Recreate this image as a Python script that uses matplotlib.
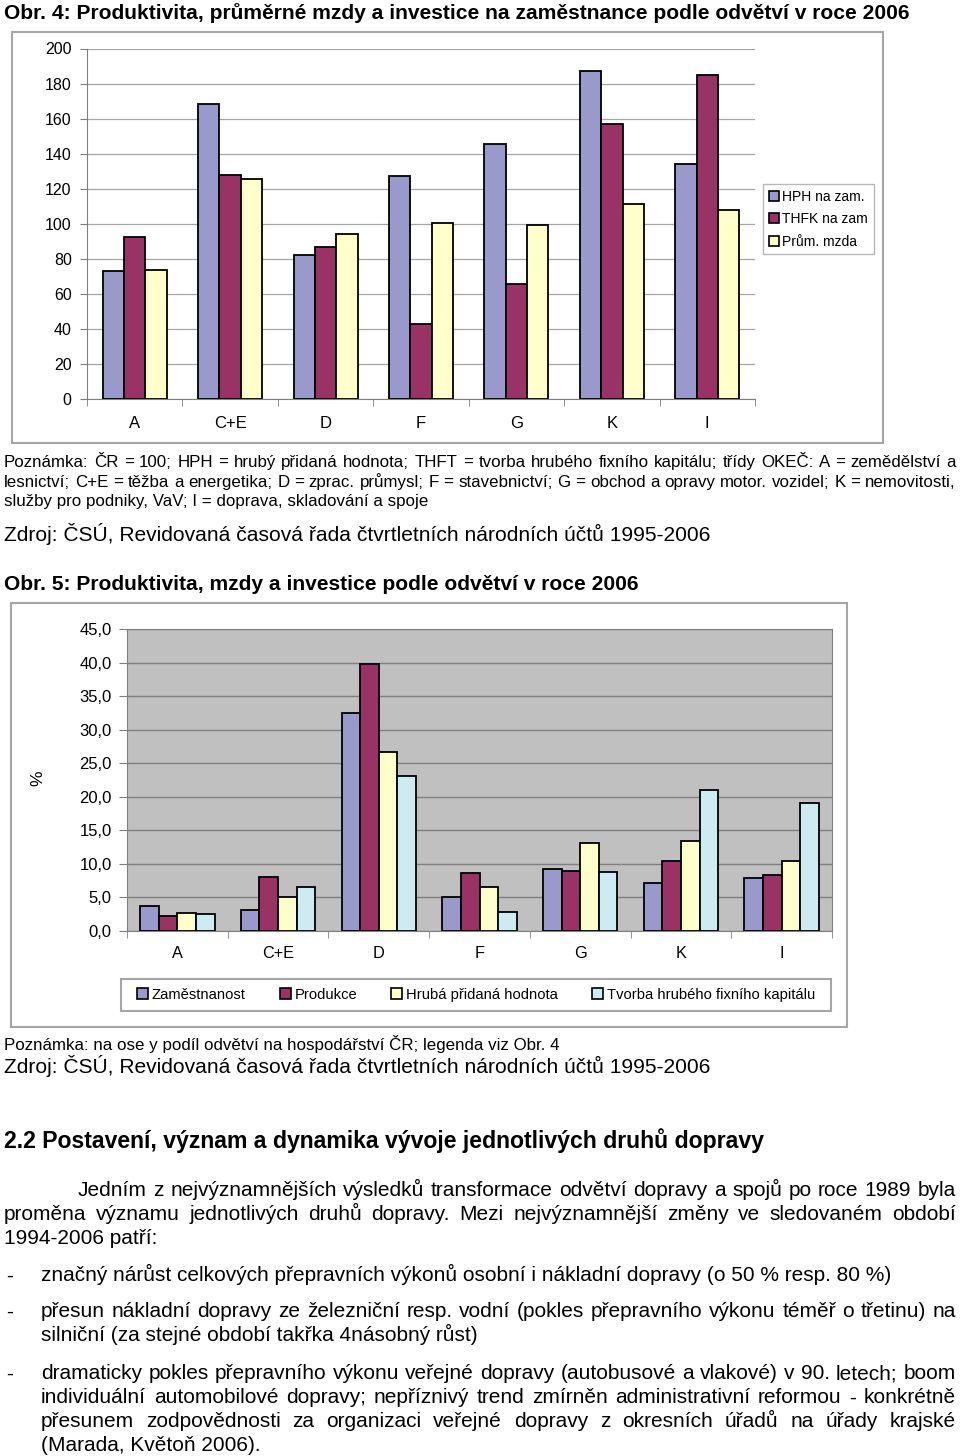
import matplotlib
matplotlib.use("Agg")
import matplotlib.pyplot as plt
from matplotlib.patches import Rectangle, Patch
import numpy as np

plt.rcParams['font.family'] = ['Liberation Sans', 'DejaVu Sans']

W, H = 960, 1456

odvetvi = ['A', 'C+E', 'D', 'F', 'G', 'K', 'I']

# Obr. 4 (CR = 100)
hph_zam = [73.3, 168.4, 81.9, 127.2, 145.5, 187.0, 134.1]
thfk_zam = [92.2, 127.6, 86.5, 42.9, 65.9, 157.1, 185.0]
prum_mzda = [73.5, 125.7, 94.1, 100.4, 99.2, 111.4, 108.0]
obr4_legenda = ['HPH na zam.', 'THFK na zam', 'Prům. mzda']
obr4_ticks = [0, 20, 40, 60, 80, 100, 120, 140, 160, 180, 200]

# Obr. 5 (podil v %)
zamestnanost = [3.7, 3.2, 32.5, 5.1, 9.3, 7.1, 7.9]
produkce = [2.2, 8.1, 39.8, 8.6, 9.0, 10.4, 8.3]
hph_podil = [2.7, 5.1, 26.7, 6.5, 13.2, 13.5, 10.4]
thfk_podil = [2.5, 6.5, 23.1, 2.9, 8.8, 21.0, 19.1]
obr5_legenda = ['Zaměstnanost', 'Produkce', 'Hrubá přidaná hodnota',
                'Tvorba hrubého fixního kapitálu']
obr5_ticks = [0, 5, 10, 15, 20, 25, 30, 35, 40, 45]

modra = '#9999CC'
vinova = '#993366'
zluta = '#FFFFCC'
tyrkys = '#CDEBF0'

fig = plt.figure(figsize=(W / 100, H / 100), dpi=100)
renderer = fig.canvas.get_renderer()


def osy(x0, y0, x1, y1):
    return fig.add_axes([x0 / W, 1 - y1 / H, (x1 - x0) / W, (y1 - y0) / H])


def ramecek(x0, y0, x1, y1):
    r = Rectangle((x0 / W, 1 - y1 / H), (x1 - x0) / W, (y1 - y0) / H,
                  transform=fig.transFigure, fill=False, ec='#A6A6A6', lw=1.5)
    fig.add_artist(r)


def radek(s, x, y, size, weight='normal', do=None):
    # y = stred radku v px, text se sazi na uctaci caru
    yb = 1 - (y + 0.35 * size / 0.72) / H
    if do is None:
        fig.text(x / W, yb, s, fontsize=size, weight=weight,
                 va='baseline', ha='left')
        return
    slova = s.split(' ')
    sirky = []
    for w in slova:
        t = fig.text(0, 0, w, fontsize=size, weight=weight)
        sirky.append(t.get_window_extent(renderer).width)
        t.remove()
    mezera = (do - x - sum(sirky)) / (len(slova) - 1)
    pos = x
    for w, sw in zip(slova, sirky):
        fig.text(pos / W, yb, w, fontsize=size, weight=weight,
                 va='baseline', ha='left')
        pos += sw + mezera


x = np.arange(len(odvetvi))

# ---------- Obr. 4 ----------
ramecek(12, 32, 883, 443)
ax1 = osy(87, 48.5, 755, 399)
bw = 0.224
barvy1 = [modra, vinova, zluta]
for i, (vals, c) in enumerate(zip([hph_zam, thfk_zam, prum_mzda], barvy1)):
    ax1.bar(x + (i - 1) * bw, vals, bw, color=c, edgecolor='black', lw=1.3, zorder=3)
ax1.set_xlim(-0.5, 6.5)
ax1.set_ylim(0, 200)
ax1.set_yticks(obr4_ticks)
ax1.yaxis.grid(True, color='#A6A6A6', lw=0.9)
ax1.set_axisbelow(True)
for s in ['top', 'right']:
    ax1.spines[s].set_visible(False)
for s in ['left', 'bottom']:
    ax1.spines[s].set_color('#808080')
ax1.set_xticks(x)
ax1.set_xticklabels(odvetvi, fontsize=12)
ax1.set_xticks(np.arange(-0.5, 7, 1), minor=True)
ax1.tick_params(axis='x', which='major', length=0, pad=12)
ax1.tick_params(axis='x', which='minor', length=5, color='#808080')
ax1.tick_params(axis='y', length=5, color='#808080', labelsize=11.5, pad=6)

leg1 = fig.legend([Patch(fc=c, ec='black', lw=1.2) for c in barvy1], obr4_legenda,
                  loc='upper left', bbox_to_anchor=(763 / W, 1 - 184 / H),
                  fancybox=False, edgecolor='#A6A6A6', fontsize=10,
                  handlelength=0.75, handleheight=0.75, handletextpad=0.25,
                  borderpad=0.4, labelspacing=0.62, borderaxespad=0)
leg1.get_frame().set_linewidth(1)

# ---------- Obr. 5 ----------
ramecek(11, 603, 847, 1027)
ax2 = osy(127, 629.5, 832, 931)
ax2.set_facecolor('#C0C0C0')
bw2 = 0.185
barvy2 = [modra, vinova, zluta, tyrkys]
for i, (vals, c) in enumerate(zip([zamestnanost, produkce, hph_podil, thfk_podil], barvy2)):
    ax2.bar(x + (i - 1.5) * bw2, vals, bw2, color=c, edgecolor='black', lw=1.3, zorder=3)
ax2.set_xlim(-0.5, 6.5)
ax2.set_ylim(0, 45)
ax2.set_yticks(obr5_ticks)
ax2.set_yticklabels([f'{v:.1f}'.replace('.', ',') for v in obr5_ticks])
ax2.yaxis.grid(True, color='#808080', lw=1)
ax2.set_axisbelow(True)
for s in ax2.spines.values():
    s.set_color('#808080')
ax2.set_xticks(x)
ax2.set_xticklabels(odvetvi, fontsize=11.7)
ax2.set_xticks(np.arange(-0.5, 7, 1), minor=True)
ax2.tick_params(axis='x', which='major', length=0, pad=11)
ax2.tick_params(axis='x', which='minor', length=5, color='#808080')
ax2.tick_params(axis='y', length=6, color='#808080', labelsize=12, pad=5)
fig.text(38 / W, 1 - 778 / H, '%', rotation=90, fontsize=12.5, ha='center', va='center')

ramecek(121, 979, 831, 1011)
leg2 = fig.legend([Patch(fc=c, ec='black', lw=1.2) for c in barvy2], obr5_legenda,
                  loc='center left', ncol=4, mode='expand',
                  bbox_to_anchor=(134 / W, 1 - 1011 / H, 684 / W, 32 / H),
                  frameon=False, fontsize=10.6,
                  handlelength=0.75, handleheight=0.75, handletextpad=0.25,
                  borderpad=0.2, borderaxespad=0)

# ---------- texty ----------
radek('Obr. 4: Produktivita, průměrné mzdy a investice na zaměstnance podle odvětví v roce 2006',
      4, 12, 15.1, 'bold')
radek('Poznámka: ČR = 100; HPH = hrubý přidaná hodnota; THFT = tvorba hrubého fixního kapitálu; '
      'třídy OKEČ: A = zemědělství a', 4, 461, 12.2, do=956)
radek('lesnictví; C+E = těžba a energetika; D = zprac. průmysl; F = stavebnictví; '
      'G = obchod a opravy motor. vozidel; K = nemovitosti,', 4, 481, 12.2, do=956)
radek('služby pro podniky, VaV; I = doprava, skladování a spoje', 4, 500, 12.2)
radek('Zdroj: ČSÚ, Revidovaná časová řada čtvrtletních národních účtů 1995-2006', 4, 534, 15.1)
radek('Obr. 5: Produktivita, mzdy a investice podle odvětví v roce 2006', 4, 583, 15.1, 'bold')
radek('Poznámka: na ose y podíl odvětví na hospodářství ČR; legenda viz Obr. 4', 4, 1044, 12.2)
radek('Zdroj: ČSÚ, Revidovaná časová řada čtvrtletních národních účtů 1995-2006', 4, 1066, 15.1)
radek('2.2 Postavení, význam a dynamika vývoje jednotlivých druhů dopravy', 4, 1140, 16.6, 'bold')

telo = 15.05
radek('Jedním z nejvýznamnějších výsledků transformace odvětví dopravy a spojů po roce 1989 byla',
      78, 1189, telo, do=956)
radek('proměna významu jednotlivých druhů dopravy. Mezi nejvýznamnější změny ve sledovaném období',
      4, 1213, telo, do=956)
radek('1994-2006 patří:', 4, 1237, telo)

for yy in [1274, 1310, 1372]:
    radek('-', 6, yy, telo)
radek('značný nárůst celkových přepravních výkonů osobní i nákladní dopravy (o 50 % resp. 80 %)',
      41, 1274, telo)
radek('přesun nákladní dopravy ze železniční resp. vodní (pokles přepravního výkonu téměř o třetinu) na',
      41, 1310, telo, do=956)
radek('silniční (za stejné období takřka 4násobný růst)', 41, 1334, telo)
radek('dramaticky pokles přepravního výkonu veřejné dopravy (autobusové a vlakové) v 90. letech; boom',
      41, 1372, telo, do=956)
radek('individuální automobilové dopravy; nepříznivý trend zmírněn administrativní reformou - konkrétně',
      41, 1396, telo, do=956)
radek('přesunem zodpovědnosti za organizaci veřejné dopravy z okresních úřadů na úřady krajské',
      41, 1420, telo, do=956)
radek('(Marada, Květoň 2006).', 41, 1444, telo)

fig.savefig('out.png', dpi=100)
